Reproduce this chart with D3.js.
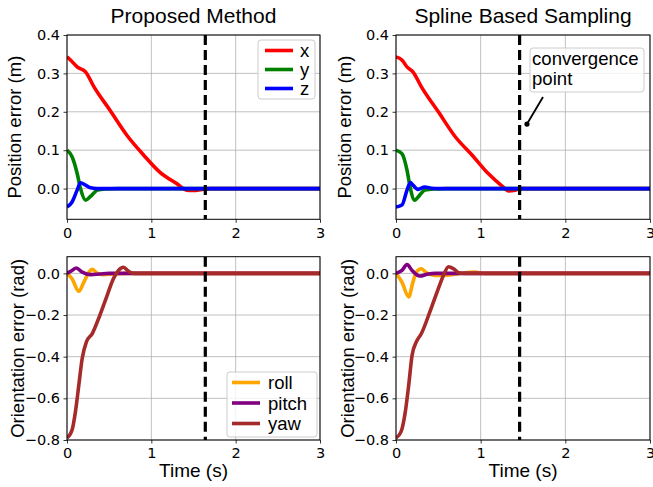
<!DOCTYPE html>
<html>
<head>
<meta charset="utf-8">
<script src="https://cdn.jsdelivr.net/npm/d3@7"></script>
<style>
  body { margin: 0; background: #fff; }
  svg { display: block; }
  .lbl { font-family: "Liberation Sans", Arial, sans-serif; fill: #000; }
  .tick text { font-family: "DejaVu Sans", sans-serif; font-size: 14.5px; fill: #000; }
</style>
</head>
<body>
<svg id="chart" width="653" height="487"></svg>
<script>
// ---- data: [time (s), error] ----
var xTicks = [0, 1, 2, 3];
var posTicks = [0, 0.1, 0.2, 0.3, 0.4];
var oriTicks = [-0.8, -0.6, -0.4, -0.2, 0.0];
var titles = ["Proposed Method", "Spline Based Sampling"];
var convergence = [1.64, 1.46];

// proposed method, position
var propX = [[0,0.343],[0.05,0.333],[0.12,0.317],[0.22,0.304],[0.32,0.265],[0.51,0.204],[0.71,0.139],[0.91,0.087],[1.1,0.043],[1.3,0.013],[1.42,-0.004],[1.5,-0.005],[1.6,-0.002],[1.7,0],[3,0]];
var propY = [[0,0.1],[0.06,0.083],[0.12,0.04],[0.16,0],[0.22,-0.03],[0.28,-0.02],[0.36,-0.004],[0.45,-0.001],[0.6,0],[3,0]];
var propZ = [[0,-0.048],[0.06,-0.035],[0.12,-0.004],[0.16,0.015],[0.22,0.009],[0.28,0.002],[0.35,0],[3,0]];
// spline based sampling, position
var splX = [[0,0.343],[0.07,0.335],[0.13,0.317],[0.2,0.304],[0.3,0.265],[0.5,0.2],[0.7,0.135],[0.9,0.087],[1.09,0.039],[1.25,0.007],[1.33,-0.006],[1.41,-0.004],[1.48,0],[3,0]];
var splY = [[0,0.1],[0.07,0.091],[0.13,0.048],[0.17,0],[0.22,-0.03],[0.28,-0.017],[0.34,-0.004],[0.45,-0.001],[0.6,0],[3,0]];
var splZ = [[0,-0.048],[0.07,-0.043],[0.13,-0.004],[0.17,0.016],[0.2,0.009],[0.26,-0.002],[0.34,0.004],[0.42,0.001],[0.5,0],[3,0]];
// proposed method, orientation
var propRoll = [[0,0],[0.06,-0.026],[0.14,-0.086],[0.2,-0.042],[0.26,0.006],[0.3,0.019],[0.36,0],[0.43,-0.006],[0.55,-0.003],[0.7,0],[3,0]];
var propPitch = [[0,0],[0.06,0.014],[0.11,0.026],[0.18,0.006],[0.28,-0.006],[0.39,-0.003],[0.5,0],[3,0]];
var propYaw = [[0,-0.79],[0.06,-0.752],[0.1,-0.664],[0.14,-0.537],[0.18,-0.409],[0.23,-0.329],[0.3,-0.289],[0.39,-0.201],[0.47,-0.113],[0.55,-0.026],[0.61,0.014],[0.67,0.029],[0.73,0.01],[0.79,0],[3,0]];
// spline based sampling, orientation
var splRoll = [[0,0],[0.07,-0.042],[0.15,-0.113],[0.2,-0.042],[0.24,0.006],[0.3,0.022],[0.36,0.003],[0.46,-0.01],[0.66,-0.006],[0.8,0.002],[0.93,0.006],[1.05,0],[3,0]];
var splPitch = [[0,0],[0.07,0.014],[0.13,0.042],[0.19,0.014],[0.28,-0.013],[0.38,-0.003],[0.46,0],[3,0]];
var splYaw = [[0,-0.79],[0.06,-0.76],[0.11,-0.664],[0.15,-0.537],[0.19,-0.393],[0.24,-0.329],[0.3,-0.289],[0.4,-0.185],[0.5,-0.073],[0.56,-0.01],[0.62,0.032],[0.68,0.022],[0.74,0.003],[0.8,0],[3,0]];

var posNames = ["x", "y", "z"], posColors = ["red", "green", "blue"];
var oriNames = ["roll", "pitch", "yaw"], oriColors = ["orange", "purple", "brown"];

var svg = d3.select("#chart");

var cols = [{x0: 67, x1: 320, ylab: 21}, {x0: 396, x1: 650, ylab: 351}];
var rows = [{y0: 35, y1: 219.3, dom: [-0.08, 0.4], ticks: posTicks, label: "Position error (m)"},
            {y0: 256.7, y1: 440, dom: [-0.8, 0.08], ticks: oriTicks, label: "Orientation error (rad)"}];

var panels = [
  {c: 0, r: 0, series: [propX, propY, propZ], colors: posColors},
  {c: 1, r: 0, series: [splX, splY, splZ], colors: posColors},
  {c: 0, r: 1, series: [propRoll, propPitch, propYaw], colors: oriColors},
  {c: 1, r: 1, series: [splRoll, splPitch, splYaw], colors: oriColors}
];

panels.forEach(function(p, i) {
  var c = cols[p.c], r = rows[p.r];
  var x = d3.scaleLinear().domain([0, 3]).range([c.x0, c.x1]);
  var y = d3.scaleLinear().domain(r.dom).range([r.y1, r.y0]);
  p.x = x; p.y = y;
  var g = svg.append("g");

  // grid
  g.selectAll(".gx").data(xTicks).enter().append("line")
    .attr("x1", d => x(d)).attr("x2", d => x(d)).attr("y1", r.y0).attr("y2", r.y1)
    .attr("stroke", "#b0b0b0").attr("stroke-width", 0.8);
  g.selectAll(".gy").data(r.ticks).enter().append("line")
    .attr("y1", d => y(d)).attr("y2", d => y(d)).attr("x1", c.x0).attr("x2", c.x1)
    .attr("stroke", "#b0b0b0").attr("stroke-width", 0.8);

  svg.append("clipPath").attr("id", "clip" + i).append("rect")
    .attr("x", c.x0).attr("y", r.y0).attr("width", c.x1 - c.x0).attr("height", r.y1 - r.y0);

  var line = d3.line().x(d => x(d[0])).y(d => y(d[1])).curve(d3.curveMonotoneX);
  var plot = g.append("g").attr("clip-path", "url(#clip" + i + ")");
  p.series.forEach(function(s, k) {
    plot.append("path").datum(s).attr("d", line)
      .attr("fill", "none").attr("stroke", p.colors[k]).attr("stroke-width", 3.6)
      .attr("stroke-linejoin", "round").attr("stroke-linecap", "butt");
  });
  // convergence line
  plot.append("line")
    .attr("x1", x(convergence[p.c])).attr("x2", x(convergence[p.c]))
    .attr("y1", r.y0).attr("y2", r.y1)
    .attr("stroke", "#000").attr("stroke-width", 3.2).attr("stroke-dasharray", "10,5");

  // axes
  var ax = g.append("g").attr("transform", "translate(0," + r.y1 + ")")
    .call(d3.axisBottom(x).tickValues(xTicks).tickFormat(d3.format("d")).tickSize(3.5).tickPadding(3.5));
  var ay = g.append("g").attr("transform", "translate(" + c.x0 + ",0)")
    .call(d3.axisLeft(y).tickValues(r.ticks).tickFormat(d3.format(".1f")).tickSize(3.5).tickPadding(3.5));
  [ax, ay].forEach(function(a) {
    a.select(".domain").remove();
    a.selectAll(".tick line").attr("stroke", "#000").attr("stroke-width", 0.8);
  });
  ax.selectAll(".tick text").attr("dy", "0.78em");
  g.append("rect").attr("x", c.x0).attr("y", r.y0).attr("width", c.x1 - c.x0).attr("height", r.y1 - r.y0)
    .attr("fill", "none").attr("stroke", "#000").attr("stroke-width", 1);

  // y label
  var yl = p.r === 0 ? c.ylab : c.ylab + 3;
  g.append("text").attr("class", "lbl")
    .attr("transform", "translate(" + yl + "," + (r.y0 + r.y1) / 2 + ") rotate(-90)")
    .attr("text-anchor", "middle").attr("font-size", 18.5).text(r.label);

  if (p.r === 0) {
    g.append("text").attr("class", "lbl").attr("x", (c.x0 + c.x1) / 2).attr("y", 23)
      .attr("text-anchor", "middle").attr("font-size", 21).text(titles[p.c]);
  } else {
    g.append("text").attr("class", "lbl").attr("x", (c.x0 + c.x1) / 2).attr("y", 477)
      .attr("text-anchor", "middle").attr("font-size", 19).text("Time (s)");
  }
});

// legends
function legend(names, colors, bx, by, bw, bh, step, lx, tx) {
  var lg = svg.append("g");
  lg.append("rect").attr("x", bx).attr("y", by).attr("width", bw).attr("height", bh)
    .attr("rx", 3).attr("fill", "#fff").attr("fill-opacity", 0.8)
    .attr("stroke", "#cccccc").attr("stroke-width", 1);
  names.forEach(function(n, k) {
    var cy = by + 10.5 + step * k;
    lg.append("line").attr("x1", lx).attr("x2", lx + 28).attr("y1", cy).attr("y2", cy)
      .attr("stroke", colors[k]).attr("stroke-width", 3.6);
    lg.append("text").attr("class", "lbl").attr("x", tx).attr("y", cy + 6.5)
      .attr("font-size", 18.5).text(n);
  });
}
legend(posNames, posColors, 258, 40, 57, 59, 19, 265, 300);
legend(oriNames, oriColors, 227, 372, 90, 65, 20.5, 232, 268);

// annotation on spline panel
var pa = panels[1];
var ann = svg.append("g");
var tip = [pa.x(1.547), pa.y(0.168)];
ann.append("line").attr("x1", 543).attr("y1", 97).attr("x2", tip[0]).attr("y2", tip[1])
  .attr("stroke", "#000").attr("stroke-width", 1.8);
ann.append("circle").attr("cx", tip[0]).attr("cy", tip[1]).attr("r", 2.6).attr("fill", "#000");
ann.append("rect").attr("x", 530).attr("y", 48).attr("width", 114).attr("height", 44)
  .attr("rx", 3).attr("fill", "#fff").attr("fill-opacity", 0.8)
  .attr("stroke", "#cccccc").attr("stroke-width", 1);
ann.append("text").attr("class", "lbl").attr("x", 532).attr("y", 65).attr("font-size", 18.6).text("convergence");
ann.append("text").attr("class", "lbl").attr("x", 532).attr("y", 85).attr("font-size", 18.6).text("point");
</script>
</body>
</html>
